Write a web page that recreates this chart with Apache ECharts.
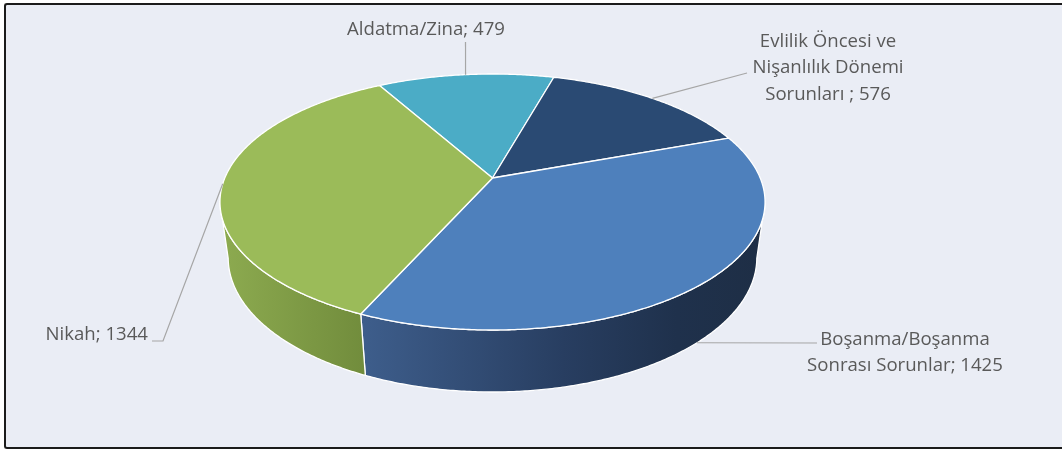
<!DOCTYPE html>
<html>
<head>
<meta charset="utf-8">
<script src="https://cdn.jsdelivr.net/npm/echarts@6/dist/echarts.min.js"></script>
<style>
  html, body { margin: 0; padding: 0; width: 1062px; height: 450px; overflow: hidden; background: #ffffff; }
  #frame { position: absolute; left: 4px; top: 3px; width: 1056px; height: 442px; border: 2px solid #1b1b1b; border-right: none; border-top-left-radius: 3px; border-bottom-left-radius: 3px; background: #eaedf5; }
  #chart { position: absolute; left: 0; top: 0; width: 1062px; height: 450px; }
</style>
</head>
<body>
<div id="frame"></div>
<div id="chart"></div>
<script>
// Slice names (line breaks as printed in the labels) and counts
const categories = [
  'Aldatma/Zina',
  'Evlilik Öncesi ve\nNişanlılık Dönemi\nSorunları ',
  'Boşanma/Boşanma\nSonrası Sorunlar',
  'Nikah'
];
const values = [479, 576, 1425, 1344];

// Colours of the top faces and of the side walls (left -> right gradient)
const topColors = ['#4bacc6', '#2a4a73', '#4e80bc', '#9bbb59'];
const sideColors = [
  [[0, '#3f93aa'], [1, '#2f7185']],
  [[0, '#233f62'], [1, '#1a2f4a']],
  [[0, '#3e5e8c'], [0.5, '#283e61'], [0.78, '#1f314c'], [1, '#1e2e45']],
  [[0, '#8dab50'], [1, '#718c3c']]
];

// Label placement: leader path end points, depth where the leader leaves the pie,
// text anchor (x, first baseline) and alignment
const labelLayout = [
  { path: [[465.5, 42]], attach: 0, x: 426, y: 36, align: 'center' },
  { path: [[747, 73]], attach: 0, x: 828, y: 48, align: 'center' },
  { path: [[817, 343]], attach: 1, x: 905, y: 346, align: 'center' },
  { path: [[163, 341], [152, 341]], attach: 0, x: 148, y: 341, align: 'right' }
];

// Pie geometry (tilted disc seen in perspective)
const CX = 492.5, CY = 178;      // centre of the top face
const RX = 267.7, RY = 123.5;    // horizontal / depth radius
const P = 0.1875;                // perspective along the depth axis
const Q = 0.03;                  // perspective along the height axis
const DEPTH = 56.8;              // thickness of the disc
const START = -29.4;             // angle of the first slice (deg, clockwise from back)
const LINE_H = 26.7;
const FONT = '18.6px "Open Sans", Lato, sans-serif';

function proj(deg, h) {
  const r = deg * Math.PI / 180;
  const Z = Math.cos(r), X = Math.sin(r);
  const s = 1 / (1 + P * Z + Q * h);
  return [CX + RX * X * s, CY + (-RY * Z + DEPTH * h) * s];
}

const total = values.reduce((a, b) => a + b, 0);
function sliceAngles(i) {
  let a = START;
  for (let k = 0; k < i; k++) a += values[k] / total * 360;
  return [a, a + values[i] / total * 360];
}

function arc(a0, a1, h) {
  const pts = [];
  const n = Math.max(2, Math.ceil(Math.abs(a1 - a0) / 0.5));
  for (let k = 0; k <= n; k++) pts.push(proj(a0 + (a1 - a0) * k / n, h));
  return pts;
}

// Part of the outer wall that faces the viewer
const VIS = Math.acos(-P) * 180 / Math.PI;   // ~100.8 deg
function visibleWall(a0, a1) {
  for (const shift of [-360, 0, 360]) {
    const lo = Math.max(a0, VIS + shift), hi = Math.min(a1, 360 - VIS + shift);
    if (hi > lo) return [lo, hi];
  }
  return null;
}

function renderItem(params, api) {
  const i = params.dataIndex;
  const [a0, a1] = sliceAngles(i);
  const children = [];

  const wall = visibleWall(a0, a1);
  if (wall) {
    const pts = arc(wall[0], wall[1], 0).concat(arc(wall[1], wall[0], 1));
    children.push({
      type: 'polygon',
      shape: { points: pts },
      style: {
        fill: new echarts.graphic.LinearGradient(0, 0, 1, 0,
          sideColors[i].map(s => ({ offset: s[0], color: s[1] }))),
        stroke: '#ffffff', lineWidth: 1.3, lineJoin: 'round'
      }
    });
  }

  children.push({
    type: 'polygon',
    shape: { points: [[CX, CY]].concat(arc(a0, a1, 0)) },
    style: { fill: topColors[i], stroke: '#ffffff', lineWidth: 1.3, lineJoin: 'round' }
  });

  const lay = labelLayout[i];
  const mid = (a0 + a1) / 2;
  children.push({
    type: 'polyline',
    shape: { points: [proj(mid, lay.attach)].concat(lay.path) },
    style: { stroke: '#a6a6a6', lineWidth: 1.2, fill: null }
  });

  const lines = (categories[i] + '; ' + api.value(0)).split('\n');
  lines.forEach((t, k) => {
    children.push({
      type: 'text',
      style: {
        text: t, x: lay.x, y: lay.y + k * LINE_H - 6.5,
        font: FONT, fill: '#595959', align: lay.align, verticalAlign: 'middle'
      }
    });
  });

  return { type: 'group', children };
}

const chart = echarts.init(document.getElementById('chart'), null, { renderer: 'canvas' });
chart.setOption({
  backgroundColor: 'transparent',
  animation: false,
  series: [{
    type: 'custom',
    coordinateSystem: 'none',
    silent: true,
    renderItem,
    data: values.map((v, i) => ({ name: categories[i], value: v }))
  }]
});
</script>
</body>
</html>
